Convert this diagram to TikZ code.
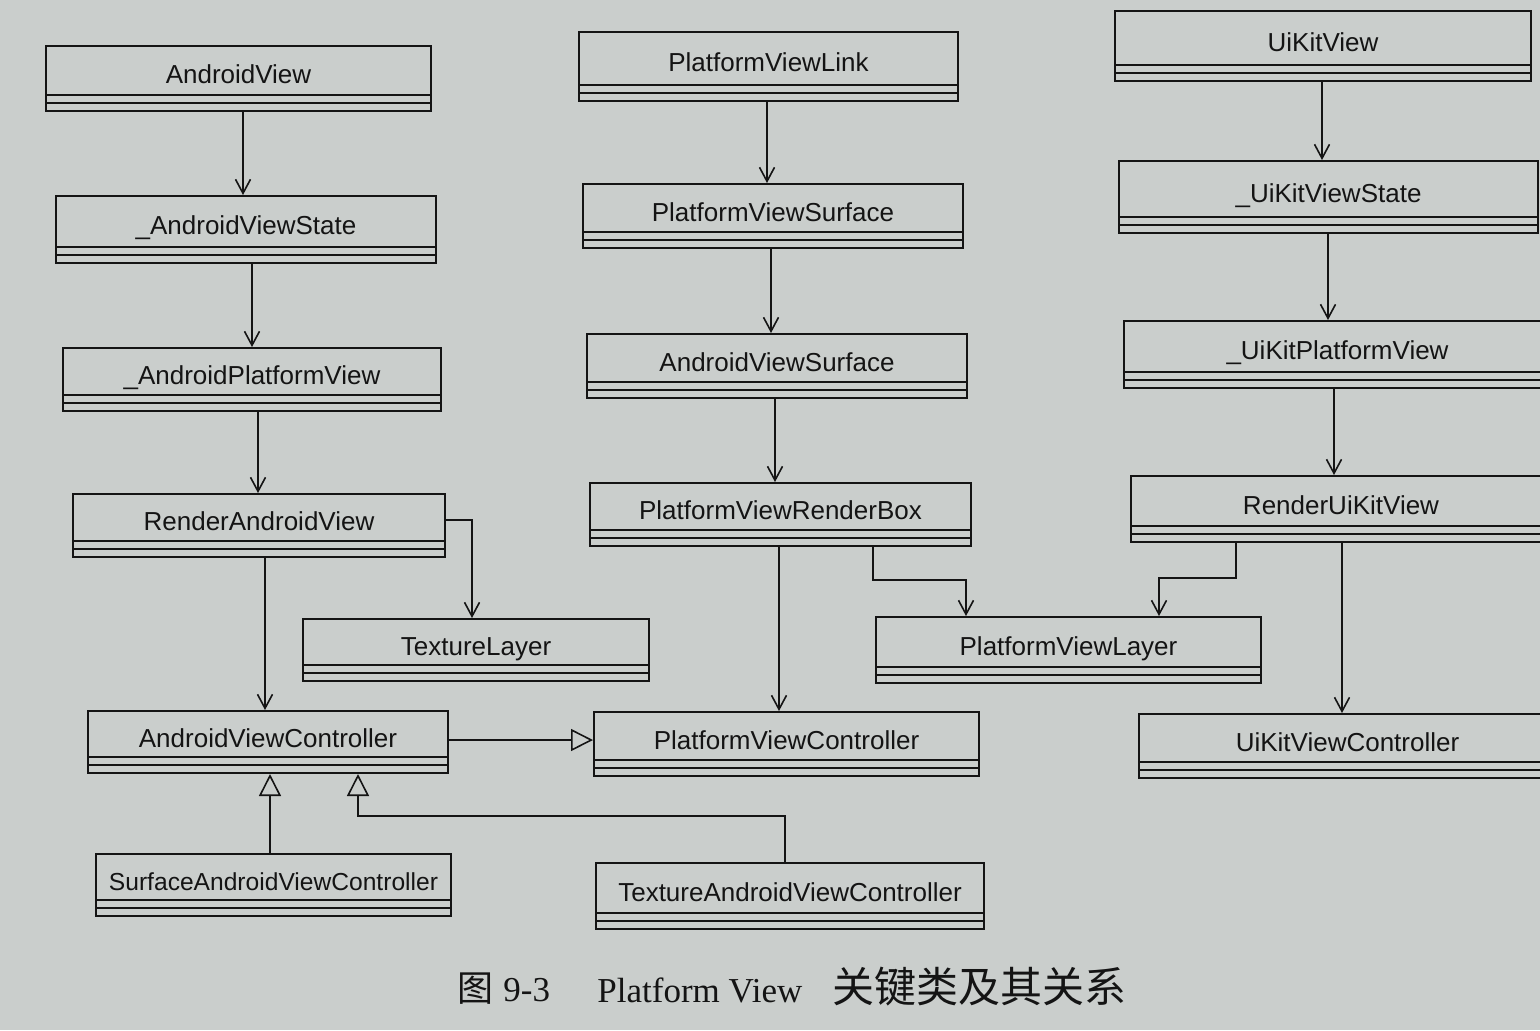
\documentclass[tikz,border=0pt]{standalone}
\usepackage{fontspec}
\setmainfont{Liberation Serif}
\setsansfont{Liberation Sans}
\newfontfamily\cjk{Noto Sans CJK SC}
\usetikzlibrary{arrows.meta,calc}
\definecolor{paper}{RGB}{202,206,204}
\definecolor{ink}{RGB}{20,20,20}

% #1 name, #2 x1, #3 y1 (top), #4 x2, #5 y2 (bottom), #6 text  (pixel units)
\newcommand\umlclass[6]{%
  \pgfmathsetmacro\ucW{(#4-#2)*0.5}%
  \pgfmathsetmacro\ucH{(#5-#3)*0.5}%
  \pgfmathsetmacro\ucT{((#5-#3-16)/2+13)*0.5}%
  \pgfmathsetmacro\ucD{\ucH-\ucT}%
  \node[umlbox, minimum width=\ucW pt, text height=\ucT pt, text depth=\ucD pt,
        anchor=north west] (#1) at (#2,#3) {#6};%
}

\begin{document}
\begin{tikzpicture}[x=0.5pt,y=-0.5pt,
  umlbox/.style={draw=ink, line width=1pt, inner sep=0pt, text=ink,
    font=\sffamily\fontsize{13pt}{15pt}\selectfont,
    path picture={
      \draw[ink, line width=0.9pt]
        ([yshift=4pt]path picture bounding box.south west) --
        ([yshift=4pt]path picture bounding box.south east);
      \draw[ink, line width=0.9pt]
        ([yshift=8pt]path picture bounding box.south west) --
        ([yshift=8pt]path picture bounding box.south east);}},
  assoc/.style={draw=ink, line width=0.8pt, -{Straight Barb[length=7pt,width=7.5pt]}},
  gen/.style={draw=ink, line width=0.8pt, -{Triangle[open,length=11pt,width=11pt,fill=paper]}},
  captxt/.style={inner sep=0pt, text=ink, anchor=base west}]

\fill[paper] (0,0) rectangle (1540,1030);
\useasboundingbox (0,0) rectangle (1540,1030);
\clip (0,0) rectangle (1540,1030);

% left column
\umlclass{AV}{45}{45}{430}{110}{AndroidView}
\umlclass{AVS}{55}{195}{435}{262}{\_AndroidViewState}
\umlclass{APV}{62}{347}{440}{410}{\_AndroidPlatformView}
\umlclass{RAV}{72}{493}{444}{556}{RenderAndroidView}
\umlclass{TL}{302}{618}{648}{680}{TextureLayer}
\umlclass{AVC}{87}{710}{447}{772}{AndroidViewController}
\umlclass{SAVC}{95}{853}{450}{915}{\fontsize{12.3pt}{14pt}\selectfont SurfaceAndroidViewController}
\umlclass{TAVC}{595}{862}{983}{928}{TextureAndroidViewController}

% middle column
\umlclass{PVL}{578}{31}{957}{100}{PlatformViewLink}
\umlclass{PVS}{582}{183}{962}{247}{PlatformViewSurface}
\umlclass{AVSf}{586}{333}{966}{397}{AndroidViewSurface}
\umlclass{PVRB}{589}{482}{970}{545}{PlatformViewRenderBox}
\umlclass{PVLy}{875}{616}{1260}{682}{PlatformViewLayer}
\umlclass{PVC}{593}{711}{978}{775}{PlatformViewController}

% right column
\umlclass{UKV}{1114}{10}{1530}{80}{UiKitView}
\umlclass{UKVS}{1118}{160}{1537}{232}{\_UiKitViewState}
\umlclass{UKPV}{1123}{320}{1550}{387}{\_UiKitPlatformView}
\umlclass{RUKV}{1130}{475}{1550}{541}{RenderUiKitView}
\umlclass{UKVC}{1138}{713}{1555}{777}{UiKitViewController}

% left connectors
\draw[assoc] (AV.south -| 243,0) -- (AVS.north -| 243,0);
\draw[assoc] (AVS.south -| 252,0) -- (APV.north -| 252,0);
\draw[assoc] (APV.south -| 258,0) -- (RAV.north -| 258,0);
\draw[assoc] (RAV.south -| 265,0) -- (AVC.north -| 265,0);
\draw[assoc] (RAV.east |- 0,520) -| (TL.north -| 472,0);
\draw[gen] (AVC.east |- 0,740) -- (PVC.west |- 0,740);
\draw[gen] (SAVC.north -| 270,0) -- (AVC.south -| 270,0);
\coordinate (bendT) at (358,816);
\draw[gen] (TAVC.north -| 785,0) |- (bendT) -- (AVC.south -| bendT);

% middle connectors
\draw[assoc] (PVL.south -| 767,0) -- (PVS.north -| 767,0);
\draw[assoc] (PVS.south -| 771,0) -- (AVSf.north -| 771,0);
\draw[assoc] (AVSf.south -| 775,0) -- (PVRB.north -| 775,0);
\draw[assoc] (PVRB.south -| 779,0) -- (PVC.north -| 779,0);
\coordinate (bendP) at (873,580);
\draw[assoc] (PVRB.south -| bendP) -- (bendP) -| (PVLy.north -| 966,0);

% right connectors
\draw[assoc] (UKV.south -| 1322,0) -- (UKVS.north -| 1322,0);
\draw[assoc] (UKVS.south -| 1328,0) -- (UKPV.north -| 1328,0);
\draw[assoc] (UKPV.south -| 1334,0) -- (RUKV.north -| 1334,0);
\draw[assoc] (RUKV.south -| 1342,0) -- (UKVC.north -| 1342,0);
\coordinate (bendU) at (1236,578);
\draw[assoc] (RUKV.south -| bendU) -- (bendU) -| (PVLy.north -| 1159,0);

% caption
\node[captxt, font=\fontsize{17.5pt}{20pt}\selectfont] (fignum) at (457,1001)
  {{\cjk\fontsize{18pt}{20pt}\selectfont 图}\hspace{5pt}9-3};
\node[captxt, font=\fontsize{17.5pt}{20pt}\selectfont] (figcap) at (597,1002)
  {Platform View\hspace{15pt}{\cjk\fontsize{21pt}{22pt}\selectfont 关键类及其关系}};
\end{tikzpicture}
\end{document}
